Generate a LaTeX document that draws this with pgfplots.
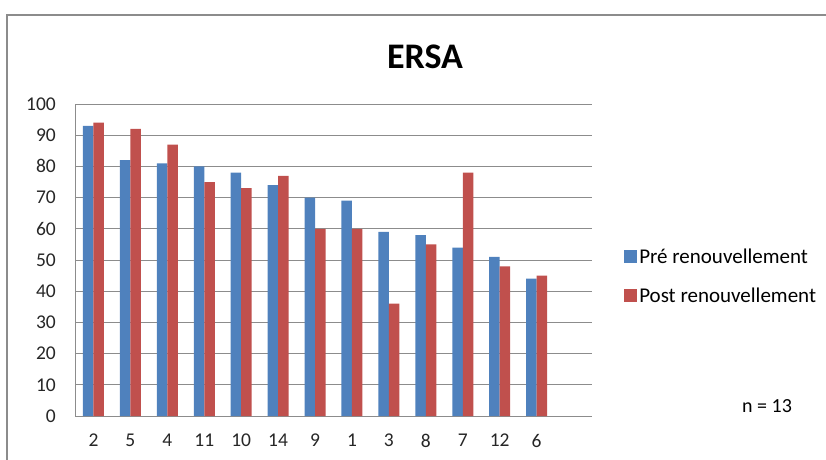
\documentclass[border=0pt]{standalone}
\usepackage{pgfplots}
\pgfplotsset{compat=1.18}
\usepackage{fontspec}
\setmainfont{Carlito}
\definecolor{barblue}{HTML}{4F81BD}
\definecolor{barred}{HTML}{C0504D}
\definecolor{gridgray}{HTML}{8C8C8C}
\begin{document}
\begin{tikzpicture}
\path[use as bounding box] (0pt,0pt) rectangle (826pt,-459pt);
\draw[gridgray, line width=1.5pt] (7pt,-460pt) -- (7pt,-15pt) -- (827pt,-15pt);
\node[font=\fontsize{36}{40}\selectfont\bfseries] at (425pt,-57pt) {ERSA};
\node[font=\fontsize{20}{24}\selectfont, anchor=base] at (767pt,-412pt) {n = 13};
\begin{axis}[
  at={(75pt,-416pt)}, anchor=south west,
  scale only axis, width=517pt, height=312pt,
  ybar=0pt, bar width=10.5pt,
  xmin=-0.5, xmax=13.5, ymin=0, ymax=100,
  xtick={0,...,12},
  xticklabels={2,5,4,11,10,14,9,1,3,8,7,12,6},
  ytick={0,10,...,100},
  major tick length=0pt,
  axis x line*=bottom, axis y line*=left,
  axis line style={gridgray, line width=1pt, -},
  ymajorgrids, grid style={gridgray, line width=1pt},
  ticklabel style={font=\fontsize{19.5}{23}\selectfont, inner sep=0pt, text=black!85},
  yticklabel style={anchor=east, xshift=-19pt},
  xticklabel style={anchor=north, yshift=-18pt},
  /pgf/number format/assume math mode=true,
  legend style={at={(1.062,0.541)}, anchor=north west, draw=none, fill=none,
    font=\fontsize{21}{25}\selectfont, row sep=18pt, inner sep=0pt,
    /tikz/every even column/.append style={column sep=4pt}},
  legend cell align=left,
  legend image code/.code={\fill[#1, draw=none] (0pt,-6pt) rectangle (13pt,7pt);},
]
\addplot[fill=barblue, draw=none] coordinates {
(0,93) (1,82) (2,81) (3,80) (4,78) (5,74) (6,70) (7,69) (8,59) (9,58) (10,54) (11,51) (12,44)};
\addplot[fill=barred, draw=none] coordinates {
(0,94) (1,92) (2,87) (3,75) (4,73) (5,77) (6,60) (7,60) (8,36) (9,55) (10,78) (11,48) (12,45)};
\legend{Pré renouvellement, Post renouvellement}
\end{axis}
\end{tikzpicture}
\end{document}
